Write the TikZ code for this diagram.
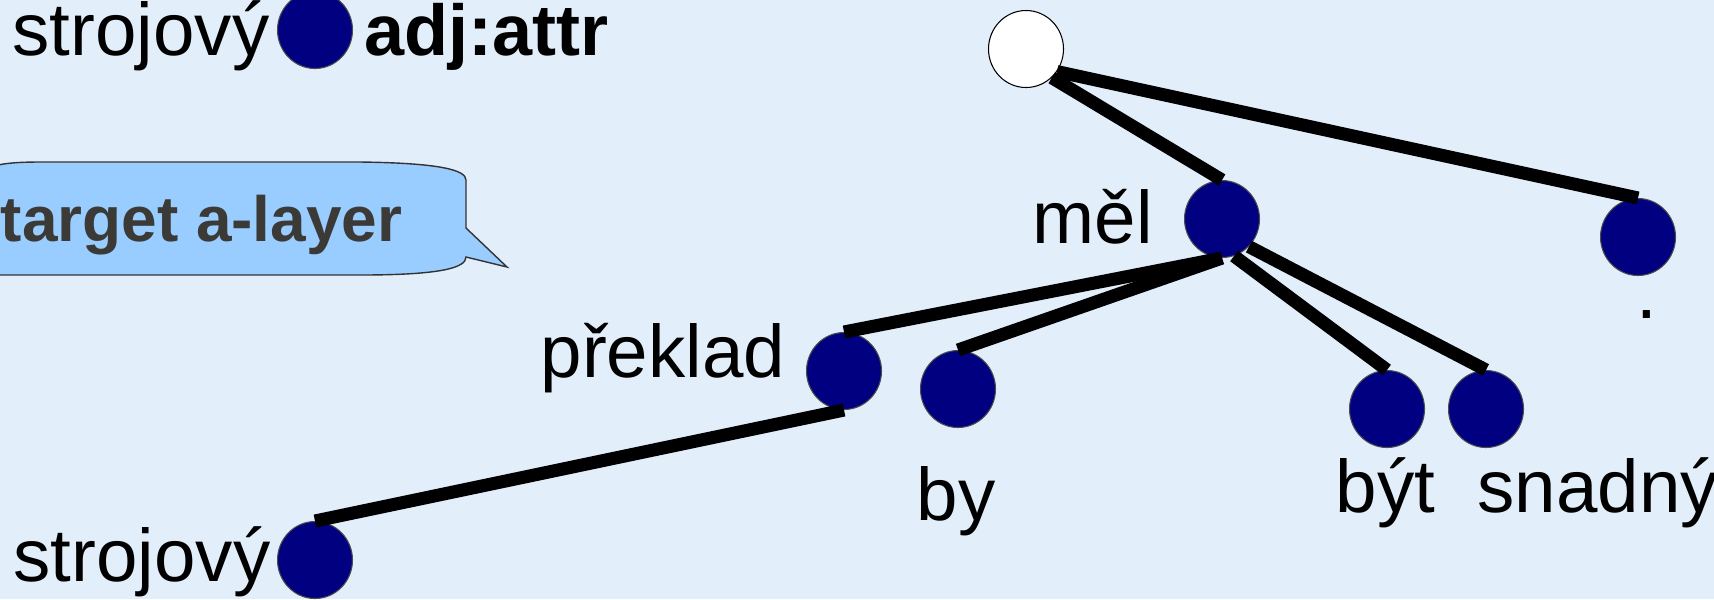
\documentclass[tikz,border=0pt]{standalone}
\usepackage{fontspec}
\setmainfont{Liberation Sans}
\usetikzlibrary{shapes.geometric}

\definecolor{bgblue}{HTML}{E2EFFB}
\definecolor{dotblue}{HTML}{000080}
\definecolor{callblue}{HTML}{99CCFF}
\definecolor{calltext}{HTML}{3B3A36}

\tikzset{
    tnode/.style={ellipse, draw=black!70, line width=0.3pt, fill=dotblue, minimum width=7.5mm, minimum height=7.7mm, inner sep=0pt},
    rootnode/.style={tnode, draw=black, fill=white},
    lbl/.style={anchor=base west, inner sep=0pt, font=\fontsize{21.2}{25}\selectfont},
    edge/.style={line width=1.3mm, black}
}

\begin{document}
\begin{tikzpicture}[x=0.1mm, y=-0.1mm]
        \fill[bgblue] (0,0) rectangle (1714,599);
        \useasboundingbox (0,0) rectangle (1714,599);

        % legend
        \node[tnode](legdot) at (315,30){};
        \node[lbl](legword) at (12,55){strojový};
        \node[lbl, font=\fontsize{20.5}{24}\selectfont\bfseries](legfun) at (364,55){adj:attr};

        % callout
        \filldraw[draw=black!80, fill=callblue, line width=0.4pt] (-20,180) .. controls (-20,166) and (0,162) .. (40,162) -- (360,162) .. controls (440,163) and (466,170) .. (466,180) -- (466,228) -- (507,267) -- (466,257) .. controls (466,268) and (440,275) .. (360,275) -- (-20,275) -- cycle;
        \node[lbl, font=\fontsize{18.2}{22}\selectfont\bfseries, text=calltext](layer) at (0,241){target a-layer};

        % tree nodes
        \node[rootnode](root) at (1026,49){};
        \node[tnode](mel) at (1222,219){};
        \node[tnode](tecka) at (1638,237){};
        \node[tnode](preklad) at (844,371){};
        \node[tnode](by) at (958,389){};
        \node[tnode](byt) at (1387,409){};
        \node[tnode](snadny) at (1486,409){};
        \node[tnode](strojovy) at (315,560){};

        % labels
        \node[lbl](lblmel) at (1032,243){měl};
        \node[lbl](lbltecka) at (1636,318){.};
        \node[lbl](lblpreklad) at (540,377){překlad};
        \node[lbl](lblby) at (916,520){by};
        \node[lbl](lblbyt) at (1335,512){být};
        \node[lbl](lblsnadny) at (1477,512){snadný};
        \node[lbl](lblstrojovy) at (13,581){strojový};

        % edges
        \draw[edge] (root.-48) -- (mel.north);
        \draw[edge] (root.-36) -- (tecka.north);
        \draw[edge] (mel.south) -- (preklad.north);
        \draw[edge] (mel.south) -- (by.north);
        \draw[edge] (mel.-72) -- (byt.north);
        \draw[edge] (mel.south east) -- (snadny.north);
        \draw[edge] (preklad.south) -- (strojovy.north);
    \end{tikzpicture}
\end{document}
